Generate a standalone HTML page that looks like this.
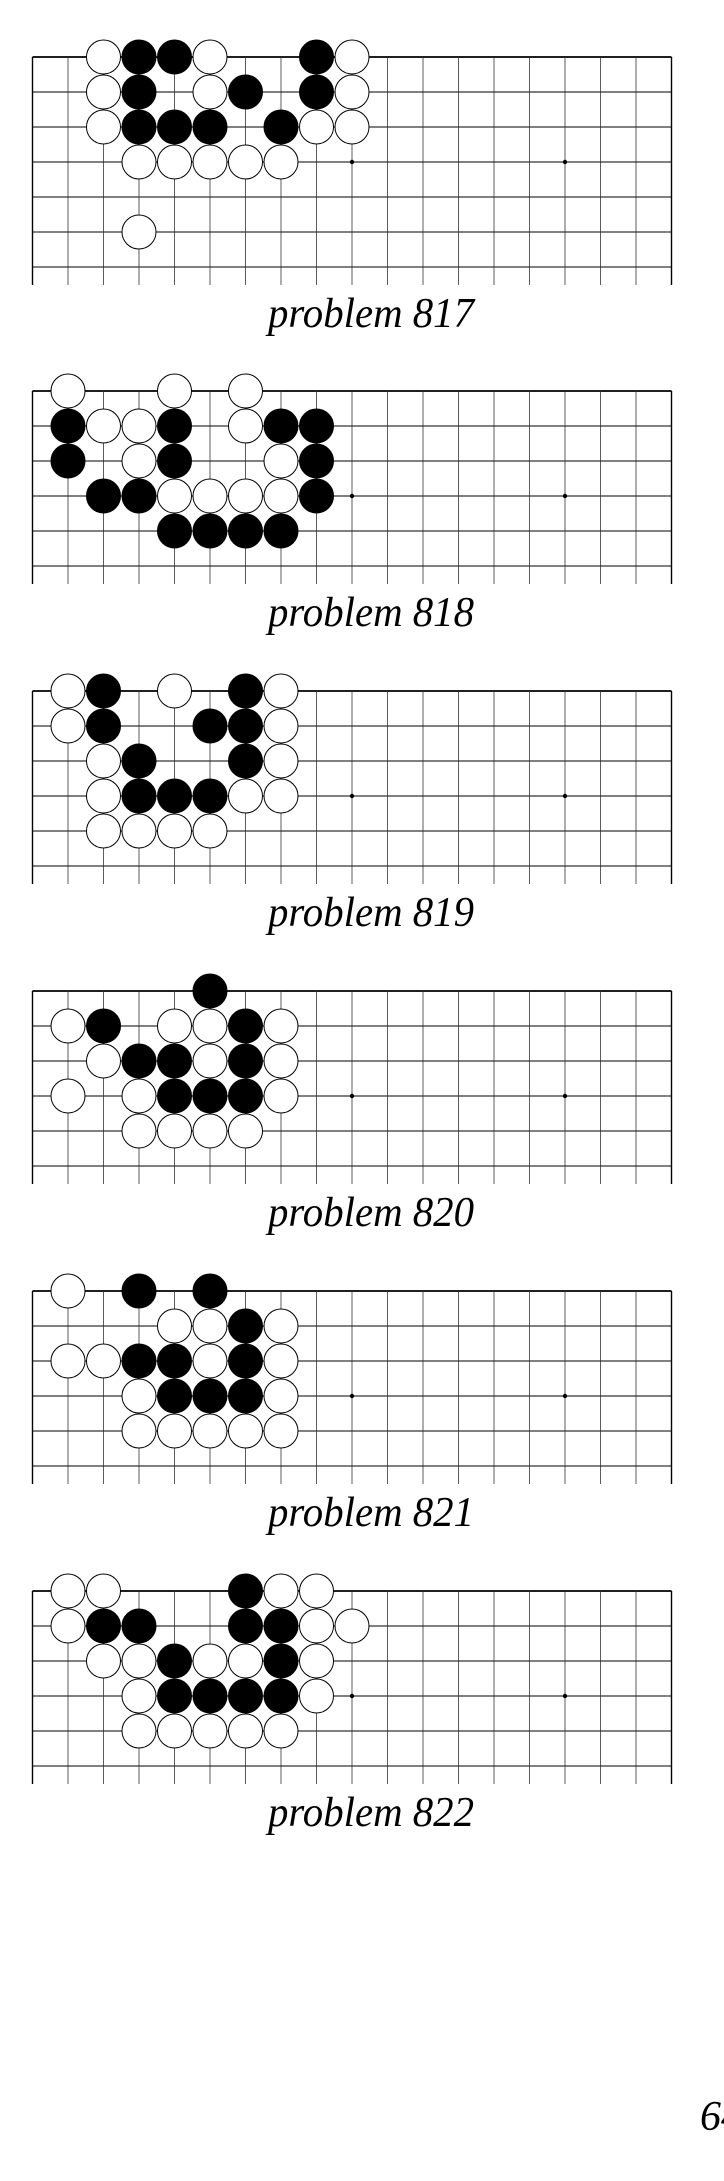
<!DOCTYPE html>
<html>
<head>
<meta charset="utf-8">
<style>
html,body{margin:0;padding:0;background:#fff;}
svg{display:block;}
</style>
</head>
<body>
<svg id="page" width="724" height="2181" viewBox="0 0 724 2181" xmlns="http://www.w3.org/2000/svg">
<text x="700" y="2130" font-family="Liberation Serif, serif" font-style="italic" font-size="42" fill="#000">64</text>
</svg>
<script>
// Problem data: board rows: 0 = top line. Each stone [col,row].
const problemNumbers = [817, 818, 819, 820, 821, 822];
const boardTops = [57, 391, 691, 991, 1291, 1591];
const boardRowCounts = [7, 6, 6, 6, 6, 6];
const blackStones = [
  [[3,0],[4,0],[8,0],[3,1],[6,1],[8,1],[3,2],[4,2],[5,2],[7,2]],
  [[1,1],[4,1],[7,1],[8,1],[1,2],[4,2],[8,2],[2,3],[3,3],[8,3],[4,4],[5,4],[6,4],[7,4]],
  [[2,0],[6,0],[2,1],[5,1],[6,1],[3,2],[6,2],[3,3],[4,3],[5,3]],
  [[5,0],[2,1],[6,1],[3,2],[4,2],[6,2],[4,3],[5,3],[6,3]],
  [[3,0],[5,0],[6,1],[3,2],[4,2],[6,2],[4,3],[5,3],[6,3]],
  [[6,0],[2,1],[3,1],[6,1],[7,1],[4,2],[7,2],[4,3],[5,3],[6,3],[7,3]]
];
const whiteStones = [
  [[2,0],[5,0],[9,0],[2,1],[5,1],[9,1],[2,2],[8,2],[9,2],[3,3],[4,3],[5,3],[6,3],[7,3],[3,5]],
  [[1,0],[4,0],[6,0],[2,1],[3,1],[6,1],[3,2],[7,2],[4,3],[5,3],[6,3],[7,3]],
  [[1,0],[4,0],[7,0],[1,1],[7,1],[2,2],[7,2],[2,3],[6,3],[7,3],[2,4],[3,4],[4,4],[5,4]],
  [[1,1],[4,1],[5,1],[7,1],[2,2],[5,2],[7,2],[1,3],[3,3],[7,3],[3,4],[4,4],[5,4],[6,4]],
  [[1,0],[4,1],[5,1],[7,1],[1,2],[2,2],[5,2],[7,2],[3,3],[7,3],[3,4],[4,4],[5,4],[6,4],[7,4]],
  [[1,0],[2,0],[7,0],[8,0],[1,1],[8,1],[9,1],[2,2],[3,2],[5,2],[6,2],[8,2],[3,3],[8,3],[3,4],[4,4],[5,4],[6,4],[7,4]]
];
const starPoints = [[9,3],[15,3]];

const NS = 'http://www.w3.org/2000/svg';
const svg = document.getElementById('page');
const X0 = 32.5, DX = 35.5, DY = 35, COLS = 19, R = 17.5;
function cx(c){ return X0 + DX*c; }
function cy(top, r){ return top + DY*r; }
function mk(tag, attrs, parent){
  const e = document.createElementNS(NS, tag);
  for (const k in attrs) e.setAttribute(k, attrs[k]);
  parent.appendChild(e);
  return e;
}

problemNumbers.forEach((num, b) => {
  const top = boardTops[b], rows = boardRowCounts[b];
  const bottom = cy(top, rows - 1) + DY*0.5 + 0.5;
  const g = mk('g', {}, svg);
  
  
  for (let r = 0; r < rows; r++) {
    const l = mk('line', {x1: cx(0), x2: cx(COLS-1), y1: cy(top,r), y2: cy(top,r), stroke: '#000', 'stroke-width': r === 0 ? 1.8 : 0.9}, g);
    
    
  }
  for (let c = 0; c < COLS; c++) {
    const edge = (c === 0 || c === COLS-1);
    const l = mk('line', {x1: cx(c), x2: cx(c), y1: top, y2: bottom, stroke: edge ? '#000' : '#333', 'stroke-width': edge ? 1.4 : 0.8}, g);
    
    
  }
  starPoints.forEach(p => {
    const s = mk('circle', {cx: cx(p[0]), cy: cy(top,p[1]), r: 2.2, fill: '#000'}, g);
    
    
  });
  whiteStones[b].forEach(p => {
    const s = mk('circle', {cx: cx(p[0]), cy: cy(top,p[1]), r: R - 0.5, fill: '#fff', stroke: '#000', 'stroke-width': 1}, g);
    
    
  });
  blackStones[b].forEach(p => {
    const s = mk('circle', {cx: cx(p[0]), cy: cy(top,p[1]), r: R - 0.5, fill: '#000', stroke: '#000', 'stroke-width': 1}, g);
    
    
  });
  const t = mk('text', {x: 371, y: bottom + 42, 'text-anchor': 'middle', 'font-family': 'Liberation Serif, serif', 'font-style': 'italic', 'font-size': 42, fill: '#000', textLength: 206, lengthAdjust: 'spacingAndGlyphs'}, svg);
  
  
  t.textContent = 'problem ' + num;
});
</script>
</body>
</html>
